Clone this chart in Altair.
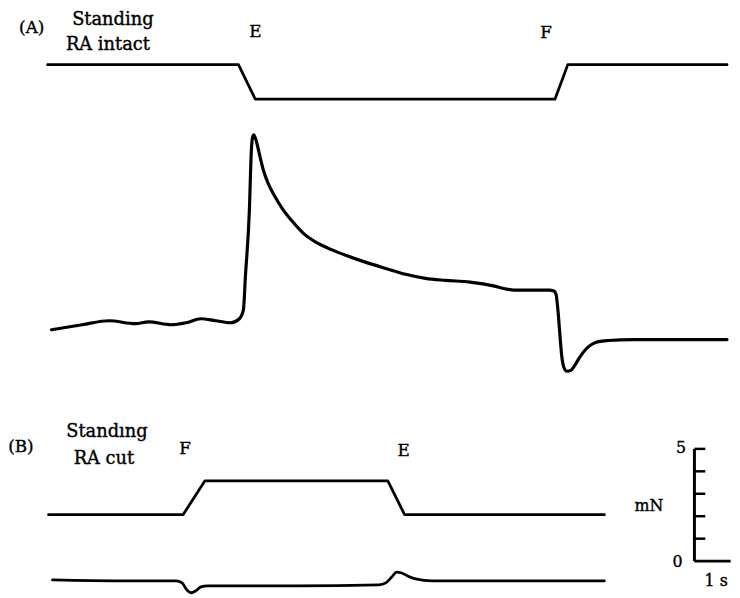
import altair as alt
import pandas as pd

# ---- data: time in s, force in mN (all traces share one frame, offset vertically) ----
a_stim_t = [1.093, 6.366, 6.831, 15.109, 15.464, 19.863]
a_stim_f = [23.62, 23.62, 22.08, 22.08, 23.62, 23.62]

a_force_t = [1.202, 2.049, 2.787, 3.525, 3.880, 4.508, 4.918, 5.328, 5.738, 6.148,
             6.393, 6.503, 6.557, 6.667, 6.721, 6.749, 6.790, 6.831, 6.885, 6.967,
             7.049, 7.186, 7.350, 7.568, 7.842, 8.169, 8.525, 8.934, 9.344, 9.891,
             10.437, 10.984, 11.530, 12.077, 12.760, 13.443, 13.770, 14.126, 14.945, 15.082,
             15.137, 15.191, 15.246, 15.301, 15.355, 15.437, 15.546, 15.656, 15.792, 15.956,
             16.120, 16.311, 16.585, 17.268, 19.863]
a_force_f = [11.81, 12.03, 12.21, 12.08, 12.16, 12.03, 12.12, 12.30, 12.21, 12.12,
             12.30, 12.69, 14.15, 17.10, 19.74, 20.32, 20.49, 20.36, 20.05, 19.48,
             18.95, 18.33, 17.81, 17.23, 16.66, 16.09, 15.69, 15.38, 15.12, 14.81,
             14.54, 14.28, 14.10, 14.01, 13.93, 13.75, 13.62, 13.57, 13.57, 13.53,
             13.40, 12.69, 11.59, 10.58, 10.14, 9.96, 10.00, 10.22, 10.58, 10.93,
             11.15, 11.28, 11.33, 11.37, 11.37]

b_stim_t = [1.120, 4.836, 5.437, 10.492, 10.956, 16.475]
b_stim_f = [3.57, 3.57, 5.07, 5.07, 3.57, 3.57]

b_force_t = [1.230, 3.060, 4.645, 4.809, 4.918, 5.055, 5.191, 5.328, 5.519, 7.978,
             10.246, 10.437, 10.601, 10.738, 10.874, 11.038, 11.257, 11.721, 13.443, 16.475]
b_force_f = [0.66, 0.62, 0.62, 0.53, 0.26, 0.09, 0.18, 0.35, 0.40, 0.40,
             0.44, 0.53, 0.79, 1.01, 0.97, 0.84, 0.71, 0.62, 0.62, 0.62]

# scale bar: 5 mN vertical, 1 s horizontal
bar_t0 = 18.962
bar_f0 = 1.50
bar_mN = [1, 2, 3, 4, 5]
bar_tick_len_s = 0.30
bar_len_s = 1.0

labels = ["(A)", "Standing", "RA intact", "E", "F",
          "(B)", "Standıng", "RA cut", "F", "E",
          "5", "mN", "0", "1 s"]
label_t = [0.656, 2.896, 2.760, 6.831, 14.863,
           0.355, 2.732, 2.650, 4.891, 10.929,
           18.593, 17.705, 18.497, 19.563]
label_f = [25.05, 25.40, 24.28, 24.85, 24.81,
           6.35, 7.01, 5.82, 6.26, 6.17,
           6.30, 3.75, 1.23, 0.40]
label_size = [17, 18, 18, 17, 17,
              17, 18, 18, 17, 17,
              16, 16, 16, 16]

X_DOMAIN = [0, 20]
Y_DOMAIN = [0, 26]
FONT = "DejaVu Serif"

xs = alt.Scale(domain=X_DOMAIN, nice=False, zero=False)
ys = alt.Scale(domain=Y_DOMAIN, nice=False, zero=False)


def trace(ts, fs, width, interp):
    df = pd.DataFrame({"t": ts, "f": fs})
    return alt.Chart(df).mark_line(
        color="black", strokeWidth=width, interpolate=interp, clip=False,
        strokeJoin="round", strokeCap="round"
    ).encode(
        x=alt.X("t:Q", scale=xs, axis=None),
        y=alt.Y("f:Q", scale=ys, axis=None),
    )


layers = [
    trace(a_stim_t, a_stim_f, 2.8, "linear"),
    trace(a_force_t, a_force_f, 3.2, "monotone"),
    trace(b_stim_t, b_stim_f, 2.8, "linear"),
    trace(b_force_t, b_force_f, 2.8, "monotone"),
]

# scale bar
vert = pd.DataFrame({"t": [bar_t0], "f": [bar_f0], "f2": [bar_f0 + max(bar_mN)]})
layers.append(alt.Chart(vert).mark_rule(color="black", strokeWidth=3).encode(
    x=alt.X("t:Q", scale=xs, axis=None),
    y=alt.Y("f:Q", scale=ys, axis=None), y2="f2:Q"))

ticks = pd.DataFrame({"t": [bar_t0] * len(bar_mN),
                      "t2": [bar_t0 + bar_tick_len_s] * len(bar_mN),
                      "f": [bar_f0 + v for v in bar_mN]})
layers.append(alt.Chart(ticks).mark_rule(color="black", strokeWidth=2.5).encode(
    x=alt.X("t:Q", scale=xs, axis=None), x2="t2:Q",
    y=alt.Y("f:Q", scale=ys, axis=None)))

base = pd.DataFrame({"t": [bar_t0], "t2": [bar_t0 + bar_len_s], "f": [bar_f0]})
layers.append(alt.Chart(base).mark_rule(color="black", strokeWidth=3).encode(
    x=alt.X("t:Q", scale=xs, axis=None), x2="t2:Q",
    y=alt.Y("f:Q", scale=ys, axis=None)))

# labels
lab = pd.DataFrame({"text": labels, "t": label_t, "f": label_f, "size": label_size})
layers.append(alt.Chart(lab).mark_text(
    font=FONT, color="black", stroke="black", strokeWidth=0.4,
    baseline="alphabetic", align="center", clip=False
).encode(
    x=alt.X("t:Q", scale=xs, axis=None),
    y=alt.Y("f:Q", scale=ys, axis=None),
    text="text:N",
    size=alt.Size("size:Q", scale=None, legend=None),
))

chart = alt.layer(*layers).properties(
    width=732, height=590,
    autosize=alt.AutoSizeParams(type="none"),
    padding=0,
).configure(background="white").configure_view(stroke=None)

chart.save("out.html", embed_options={"renderer": "svg", "actions": False})
